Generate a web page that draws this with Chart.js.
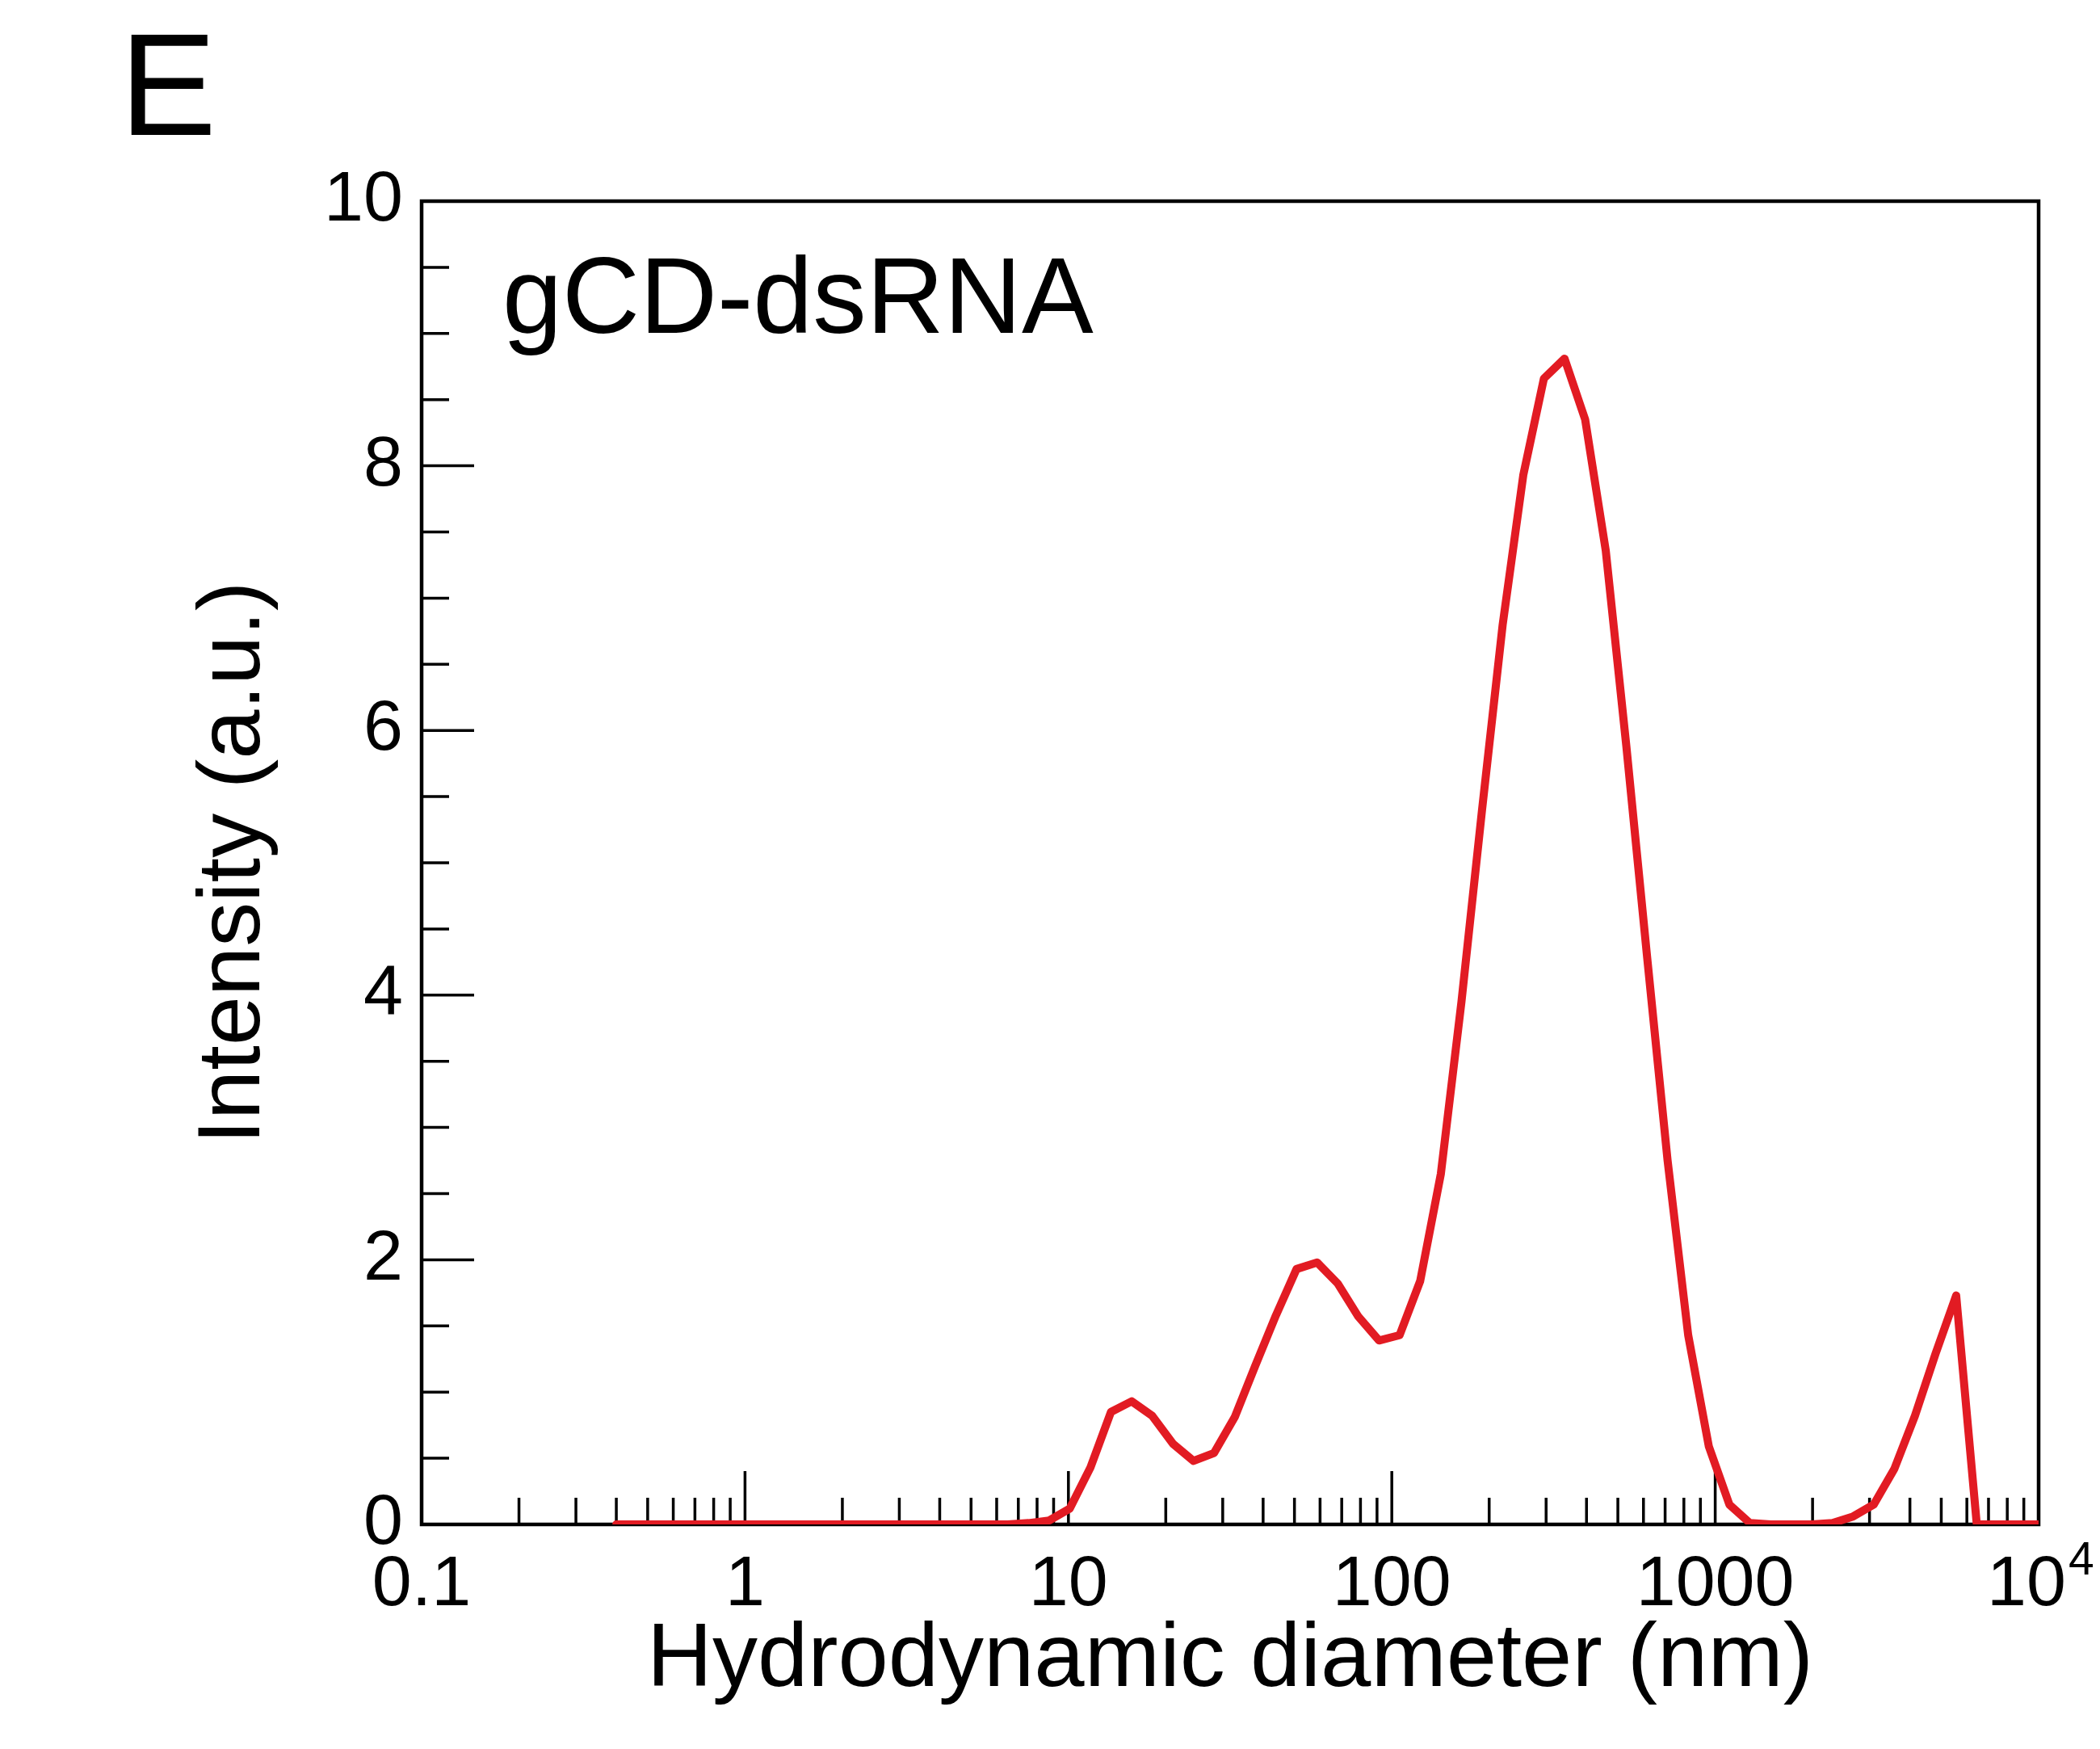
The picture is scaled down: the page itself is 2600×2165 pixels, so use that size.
<!DOCTYPE html>
<html>
<head>
<meta charset="utf-8">
<title>gCD-dsRNA size distribution</title>
<script src="https://cdn.jsdelivr.net/npm/chart.js@4.4.1/dist/chart.umd.min.js"></script>
<style>
  html, body { margin: 0; padding: 0; background: #fff; }
  canvas { display: block; }
</style>
</head>
<body>
<canvas id="sizeChart" width="2600" height="2165"></canvas>
<script>
// DLS size classes (nm) and intensity distribution
const sizes = [
  0.4, 0.4632, 0.5365, 0.6213, 0.7195, 0.8332, 0.9649, 1.117, 1.294, 1.499,
  1.736, 2.01, 2.328, 2.696, 3.122, 3.615, 4.187, 4.849, 5.615, 6.503,
  7.531, 8.721, 10.1, 11.7, 13.54, 15.69, 18.17, 21.04, 24.36, 28.21,
  32.67, 37.84, 43.82, 50.75, 58.77, 68.06, 78.82, 91.28, 105.7, 122.4,
  141.8, 164.2, 190.1, 220.2, 255, 295.3, 342, 396.1, 458.7, 531.2,
  615.1, 712.4, 825, 955.4, 1106, 1281, 1484, 1718, 1990, 2305,
  2669, 3091, 3580, 4145, 4801, 5560, 6439, 7456, 8635, 10000
];
const intensity = [
  0, 0, 0, 0, 0, 0, 0, 0, 0, 0,
  0, 0, 0, 0, 0, 0, 0, 0, 0, 0,
  0.01, 0.03, 0.12, 0.43, 0.85, 0.93, 0.82, 0.61, 0.48, 0.54,
  0.81, 1.2, 1.58, 1.93, 1.98, 1.82, 1.57, 1.39, 1.43, 1.84,
  2.65, 3.95, 5.4, 6.8, 7.93, 8.66, 8.81, 8.35, 7.36, 5.88,
  4.3, 2.75, 1.43, 0.59, 0.15, 0.01, 0, 0, 0, 0.01,
  0.06, 0.15, 0.42, 0.82, 1.29, 1.73, 0, 0, 0, 0
];

const xDecades = [0.1, 1, 10, 100, 1000, 10000];
const xDecadeLabels = ['0.1', '1', '10', '100', '1000'];
const xPowerLabel = { base: '10', exp: '4' };
const yMajor = [0, 2, 4, 6, 8, 10];
const yStep = 0.5;

const sampleName = 'gCD-dsRNA';
const panelLetter = 'E';

// tick marks: 1..9 in every decade, minor y ticks every half unit
const xTicks = [];
xDecades.slice(0, -1).forEach(d => {
  for (let m = 1; m < 10; m++) xTicks.push(+(m * d).toPrecision(4));
});
xTicks.push(xDecades[xDecades.length - 1]);
const yTicks = [];
for (let v = 0; v <= 10; v += yStep) yTicks.push(v);

const FONT = "'Liberation Sans', Arial, Helvetica, sans-serif";
const TICK_SIZE = 88;
Chart.defaults.font.family = FONT;
Chart.defaults.color = '#000';

const frame = {
  id: 'frame',
  beforeDatasetsDraw(chart) {
    const { ctx, chartArea: a, scales: { x, y } } = chart;
    ctx.save();
    ctx.strokeStyle = '#000';
    ctx.lineWidth = 3.5;
    ctx.beginPath();
    x.ticks.forEach(t => {
      const px = x.getPixelForValue(t.value);
      const len = xDecades.includes(t.value) ? 66 : 33;
      ctx.moveTo(px, a.bottom);
      ctx.lineTo(px, a.bottom - len);
    });
    y.ticks.forEach(t => {
      const py = y.getPixelForValue(t.value);
      const len = yMajor.includes(t.value) ? 65 : 34;
      ctx.moveTo(a.left, py);
      ctx.lineTo(a.left + len, py);
    });
    ctx.stroke();
    ctx.lineWidth = 4.5;
    ctx.strokeRect(a.left, a.top, a.right - a.left, a.bottom - a.top);
    ctx.restore();
  },
  afterDraw(chart) {
    const { ctx, chartArea: a, scales: { x } } = chart;
    ctx.save();
    ctx.fillStyle = '#000';
    ctx.textAlign = 'left';

    // last decade label written as a power of ten
    const px = x.getPixelForValue(xDecades[xDecades.length - 1]);
    const midY = x.top + 23 + TICK_SIZE * 1.2 / 2;
    ctx.textBaseline = 'middle';
    ctx.font = `${TICK_SIZE}px ${FONT}`;
    ctx.fillText(xPowerLabel.base, px - 64, midY);
    const baseW = ctx.measureText(xPowerLabel.base).width;
    ctx.font = `57px ${FONT}`;
    ctx.fillText(xPowerLabel.exp, px - 64 + baseW + 3, midY - 30);

    ctx.textBaseline = 'alphabetic';
    ctx.font = `133px ${FONT}`;
    ctx.fillText(sampleName, a.left + 100, a.top + 163);

    ctx.font = `180px ${FONT}`;
    ctx.fillText(panelLetter, 148, 167);
    ctx.restore();
  }
};

new Chart(document.getElementById('sizeChart'), {
  type: 'line',
  data: {
    datasets: [{
      label: sampleName,
      data: sizes.map((s, i) => ({ x: s, y: intensity[i] })),
      borderColor: '#E21B23',
      borderWidth: 10,
      borderJoinStyle: 'round',
      borderCapStyle: 'round',
      pointRadius: 0,
      tension: 0,
      fill: false
    }]
  },
  options: {
    responsive: false,
    animation: false,
    layout: { padding: { top: 249, right: 76, left: 0, bottom: 0 } },
    scales: {
      x: {
        type: 'logarithmic',
        min: 0.1,
        max: 10000,
        grid: { display: false, drawTicks: false },
        border: { display: false },
        afterBuildTicks: s => { s.ticks = xTicks.map(v => ({ value: v })); },
        afterFit: s => { s.height = 278; },
        ticks: {
          autoSkip: false,
          maxRotation: 0,
          padding: 23,
          font: { size: TICK_SIZE },
          callback: v => {
            const i = xDecades.indexOf(v);
            return i >= 0 && i < xDecadeLabels.length ? xDecadeLabels[i] : '';
          }
        },
        title: {
          display: true,
          text: 'Hydrodynamic diameter (nm)',
          font: { size: 112 },
          padding: { top: 0, bottom: 42 }
        }
      },
      y: {
        min: 0,
        max: 10,
        grid: { display: false, drawTicks: false },
        border: { display: false },
        afterBuildTicks: s => { s.ticks = yTicks.map(v => ({ value: v })); },
        afterFit: s => { s.width = 522; },
        ticks: {
          autoSkip: false,
          padding: 23,
          font: { size: TICK_SIZE },
          callback: v => yMajor.includes(v) ? String(v) : ''
        },
        title: {
          display: true,
          text: 'Intensity (a.u.)',
          font: { size: 110 },
          padding: { top: 225, bottom: 0 }
        }
      }
    },
    plugins: {
      legend: { display: false },
      tooltip: { enabled: false }
    }
  },
  plugins: [frame]
});
</script>
</body>
</html>
